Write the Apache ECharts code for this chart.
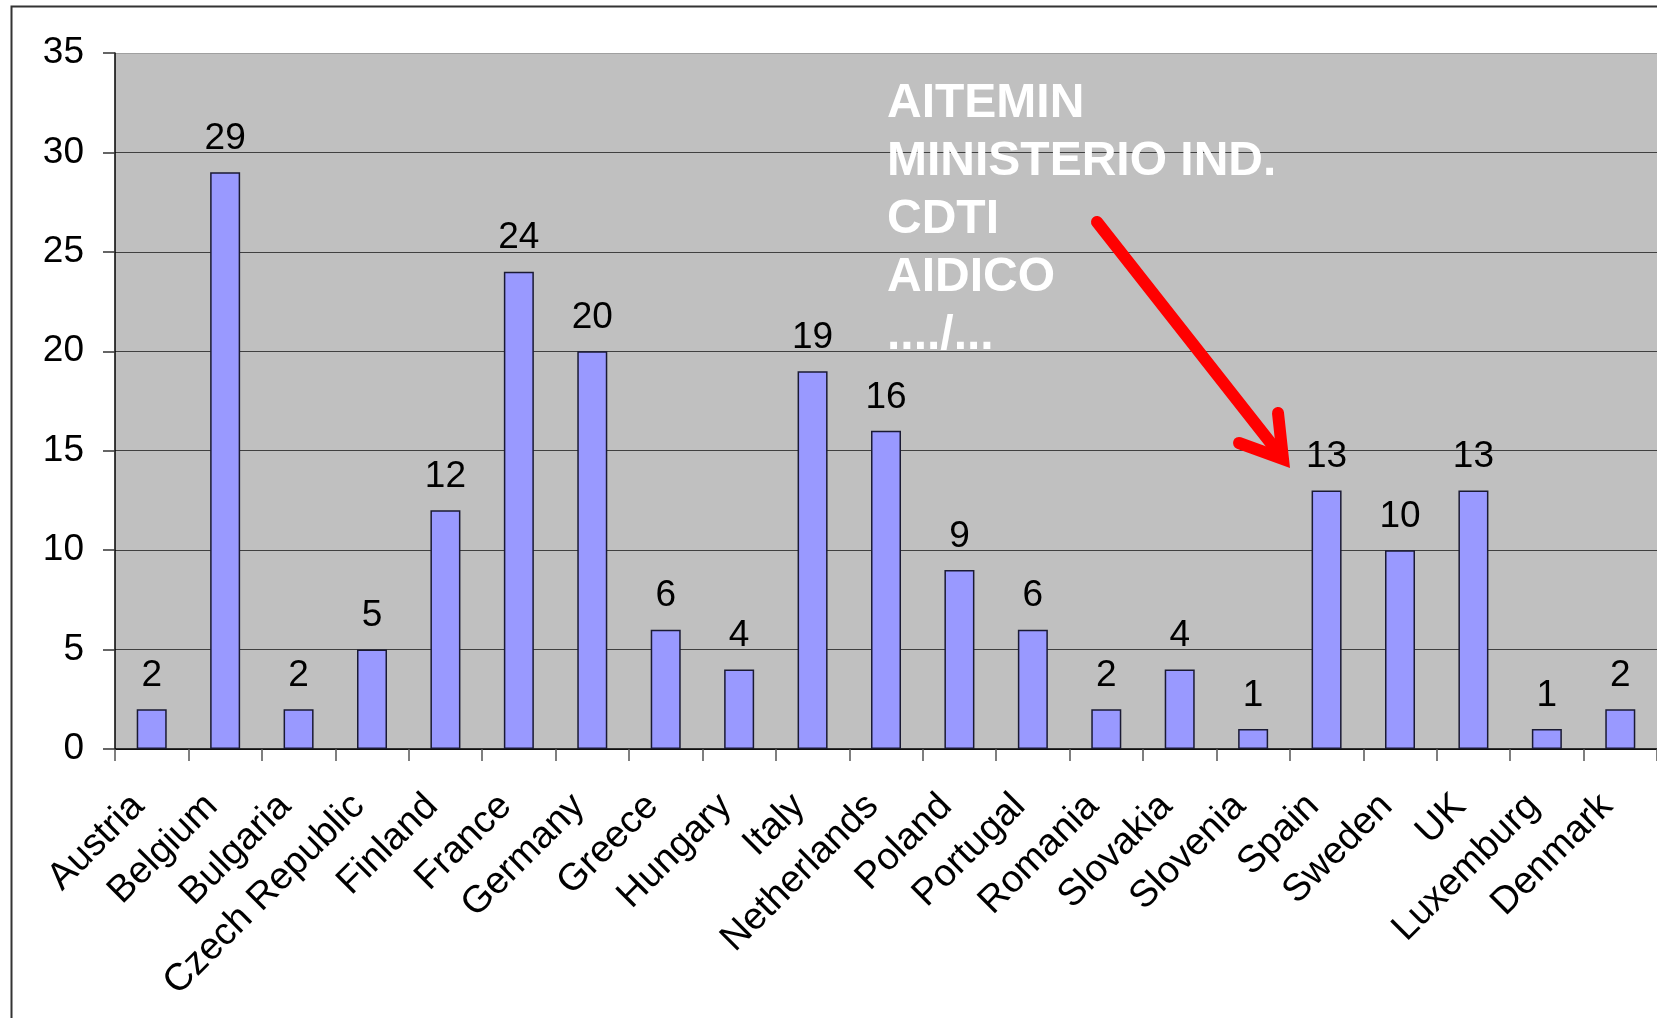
<!DOCTYPE html>
<html>
<head>
<meta charset="utf-8">
<script src="https://cdn.jsdelivr.net/npm/echarts@6/dist/echarts.min.js"></script>
<style>
html,body{margin:0;padding:0;background:#fff;}
#c{width:1657px;height:1018px;}
</style>
</head>
<body>
<div id="c"></div>
<script>
var categories = ['Austria','Belgium','Bulgaria','Czech Republic','Finland','France','Germany','Greece','Hungary','Italy','Netherlands','Poland','Portugal','Romania','Slovakia','Slovenia','Spain','Sweden','UK','Luxemburg','Denmark'];
var values = [2,29,2,5,12,24,20,6,4,19,16,9,6,2,4,1,13,10,13,1,2];
var yTicks = [0,5,10,15,20,25,30,35];
var noteLines = ['AITEMIN','MINISTERIO IND.','CDTI','AIDICO','..../...'];

var FONT = '"Liberation Sans", Arial, sans-serif';
var chart = echarts.init(document.getElementById('c'), null, {renderer:'canvas'});
chart.setOption({
  animation: false,
  backgroundColor: '#ffffff',
  grid: {
    left: 115, top: 53, width: 1546, height: 696,
    show: true, backgroundColor: '#c0c0c0', borderWidth: 0
  },
  xAxis: {
    type: 'category',
    data: categories,
    boundaryGap: true,
    axisLine: {show: true, lineStyle: {color: '#000', width: 1.5}},
    axisTick: {show: true, length: 12, alignWithLabel: false, lineStyle: {color: '#555', width: 1.5}},
    axisLabel: {interval: 0, rotate: 45, margin: 38, padding: [0, 19, 0, 0], fontSize: 38, color: '#000', fontFamily: FONT},
    splitLine: {show: false}
  },
  yAxis: {
    type: 'value',
    min: yTicks[0], max: yTicks[yTicks.length-1], interval: 5,
    axisLine: {show: true, lineStyle: {color: '#000', width: 1.5}},
    axisTick: {show: true, length: 12, lineStyle: {color: '#333', width: 1.5}},
    axisLabel: {margin: 31, fontSize: 37, color: '#000', fontFamily: FONT},
    splitLine: {show: true, lineStyle: {color: ['#404040','#404040','#404040','#404040','#404040','#404040','#404040','#a0a0a0'], width: 1.2}}
  },
  series: [{
    type: 'bar',
    data: values,
    barWidth: 30,
    itemStyle: {color: '#9999ff', borderColor: '#1a1a33', borderWidth: 1.5},
    label: {show: true, position: 'top', distance: 15, fontSize: 37, color: '#000', fontFamily: FONT}
  }],
  graphic: [
    {
      type: 'rect', z: 100, silent: true,
      shape: {x: 11.5, y: 6.5, width: 3000, height: 3000},
      style: {fill: 'none', stroke: '#333', lineWidth: 2}
    },
    {
      type: 'text', z: 100, left: 887, top: 75,
      style: {text: noteLines.join('\n'), fill: '#ffffff', font: 'bold 48px ' + FONT, lineHeight: 58}
    },
    {
      type: 'line', z: 101,
      shape: {x1: 1097, y1: 222, x2: 1281, y2: 456},
      style: {stroke: '#ff0000', lineWidth: 12, lineCap: 'round'}
    },
    {
      type: 'polyline', z: 101,
      shape: {points: [[1278, 413], [1283, 459], [1239, 443]]},
      style: {stroke: '#ff0000', fill: 'none', lineWidth: 12, lineCap: 'round', lineJoin: 'miter', miterLimit: 10}
    }
  ]
});
</script>
</body>
</html>
